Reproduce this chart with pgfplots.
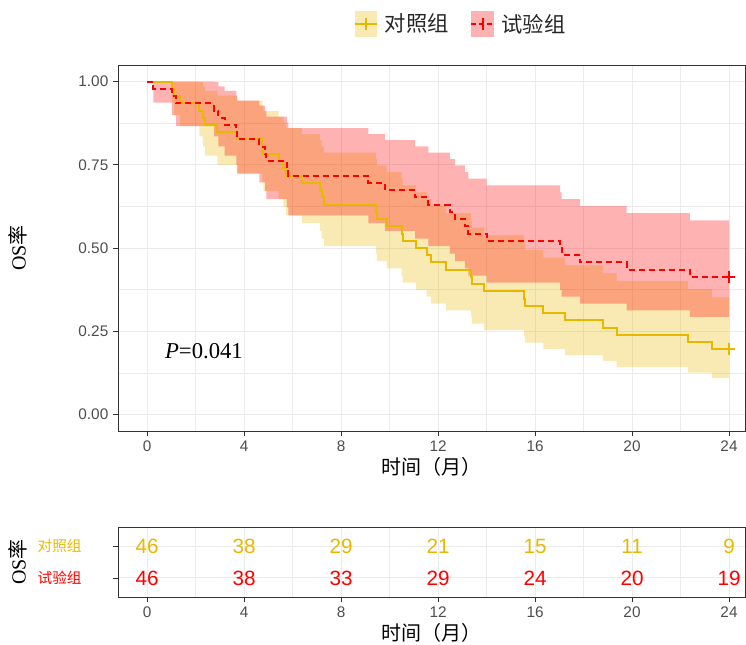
\documentclass[border=0pt]{standalone}
\usepackage{fontspec}
\setmainfont{Liberation Sans}
\newfontfamily\cjk{Noto Sans CJK SC}
\newfontfamily\serif{Liberation Serif}
\usepackage{pgfplots}
\pgfplotsset{compat=1.18}
\usepackage{pgfplotstable}
\usepgfplotslibrary{fillbetween}

\definecolor{goldc}{HTML}{E7B800}
\definecolor{redc}{HTML}{FF0000}
\definecolor{tickc}{HTML}{4D4D4D}
\definecolor{framec}{HTML}{333333}
\definecolor{gridc}{HTML}{EBEBEB}

% control group: time, survival, lower, upper
\pgfplotstableread{
t s lo hi
0 1 1 1
1.02 0.97826 0.93702 1
1.10 0.95652 0.89936 1
1.35 0.93478 0.86608 1
2.16 0.91304 0.83514 0.99821
2.30 0.89130 0.80575 0.98595
2.39 0.86957 0.77749 0.97255
2.90 0.84783 0.75013 0.95825
3.70 0.82609 0.72350 0.94322
4.75 0.80435 0.69751 0.92756
4.80 0.78261 0.67204 0.91136
5.42 0.76087 0.64707 0.89468
5.62 0.73913 0.62253 0.87757
5.73 0.71739 0.59839 0.86006
6.38 0.69565 0.57462 0.84218
7.13 0.67391 0.55119 0.82396
7.20 0.65217 0.52809 0.80541
7.30 0.63043 0.50530 0.78656
9.44 0.60870 0.48281 0.76742
9.48 0.58696 0.46060 0.74798
9.88 0.56522 0.43867 0.72827
10.50 0.54348 0.41702 0.70829
10.54 0.52174 0.39563 0.68804
11.09 0.50000 0.37451 0.66754
11.53 0.47826 0.35365 0.64677
11.70 0.45652 0.33305 0.62575
12.33 0.43478 0.31273 0.60446
13.35 0.41304 0.29268 0.58292
13.40 0.39130 0.27289 0.56111
13.90 0.36957 0.25338 0.53904
15.55 0.34783 0.23416 0.51668
15.59 0.32609 0.21524 0.49404
16.34 0.30435 0.19662 0.47110
17.24 0.28261 0.17833 0.44787
18.80 0.26087 0.16039 0.42431
19.37 0.23913 0.14281 0.40042
22.30 0.21739 0.12563 0.37616
23.29 0.19565 0.10889 0.35153
24.00 0.19565 0.10889 0.35153
}\ctrl

% experimental group
\pgfplotstableread{
t s lo hi
0 1 1 1
0.26 0.97826 0.93702 1
1.02 0.95652 0.89936 1
1.20 0.93478 0.86608 1
2.76 0.91304 0.83514 0.99821
2.94 0.89130 0.80575 0.98595
3.20 0.86957 0.77749 0.97255
3.68 0.84783 0.75013 0.95825
3.72 0.82609 0.72350 0.94322
4.63 0.80435 0.69751 0.92756
4.87 0.78261 0.67204 0.91136
4.92 0.76087 0.64707 0.89468
5.76 0.73913 0.62253 0.87757
5.83 0.71739 0.59839 0.86006
9.13 0.69565 0.57462 0.84218
9.81 0.67391 0.55119 0.82396
11.05 0.65217 0.52809 0.80541
11.60 0.63043 0.50530 0.78656
12.49 0.60870 0.48281 0.76742
12.70 0.58696 0.46060 0.74798
13.11 0.56522 0.43867 0.72827
13.25 0.54348 0.41702 0.70829
14.00 0.52174 0.39563 0.68804
17.03 0.50000 0.37451 0.66754
17.10 0.47826 0.35365 0.64677
17.86 0.45652 0.33305 0.62575
19.78 0.43478 0.31273 0.60446
22.39 0.41304 0.29268 0.58292
24.00 0.41304 0.29268 0.58292
}\expt

\pgfplotstableread{
t row n
0 2 46
4 2 38
8 2 29
12 2 21
16 2 15
20 2 11
24 2 9
}\riskg
\pgfplotstableread{
t row n
0 1 46
4 1 38
8 1 33
12 1 29
16 1 24
20 1 20
24 1 19
}\riskr

\pgfplotsset{
  kmbase/.style={
    scale only axis, width=470.25pt,
    xmin=-1.2, xmax=24.66,
    xtick={0,4,...,24}, minor xtick={2,6,...,22},
    grid=both,
    major grid style={gridc, line width=0.7pt},
    minor grid style={gridc, line width=0.35pt},
    axis line style={framec, line width=0.6pt},
    tick style={framec, line width=0.6pt},
    major tick length=3.75pt, minor tick length=0pt,
    tick align=outside, xtick pos=left, ytick pos=left,
    tick label style={text=tickc, font=\fontsize{11.5}{13}\selectfont},
    /pgf/number format/assume math mode=true,
    label style={font=\cjk\fontsize{15}{17}\selectfont, text=black},
    xlabel style={at={(axis description cs:0.5,0)}, anchor=center, yshift=-27pt},
    ylabel style={at={(axis description cs:0,0.5)}, anchor=center, yshift=75pt},
  }
}

\begin{document}
\begin{tikzpicture}

\begin{axis}[kmbase,
  at={(88.5pt,-323.25pt)}, anchor=south west, height=274.5pt,
  ymin=-0.05, ymax=1.05,
  ytick={0,0.25,0.5,0.75,1}, yticklabels={0.00,0.25,0.50,0.75,1.00},
  minor ytick={0.125,0.375,0.625,0.875},
  xlabel={时间（月）},
  ylabel={{\serif OS}率},
  legend columns=2,
  legend style={at={(axis description cs:0.547,1.112)}, anchor=center,
    draw=none, fill=none, font=\cjk\fontsize{16}{18}\selectfont, text=black!85,
    /tikz/every odd column/.append style={column sep=3pt},
    /tikz/every even column/.append style={column sep=14pt}},
]
\addplot[name path=gu, const plot, draw=none, forget plot] table[x=t, y=hi] {\ctrl};
\addplot[name path=gl, const plot, draw=none, forget plot] table[x=t, y=lo] {\ctrl};
\addplot[fill=goldc, fill opacity=0.3, draw=none, forget plot] fill between[of=gu and gl];
\addplot[name path=ru, const plot, draw=none, forget plot] table[x=t, y=hi] {\expt};
\addplot[name path=rl, const plot, draw=none, forget plot] table[x=t, y=lo] {\expt};
\addplot[fill=redc, fill opacity=0.3, draw=none, forget plot] fill between[of=ru and rl];

\addplot[const plot, goldc, line width=1.5pt, mark=none,
  legend image code/.code={
    \path[fill=goldc, fill opacity=0.3, draw=none] (0pt,-9.5pt) rectangle (17pt,9.5pt);
    \draw[goldc, line width=1.5pt, solid] (0pt,0pt) -- (17pt,0pt);
    \draw[goldc, line width=1.5pt, solid] (8.5pt,-4.5pt) -- (8.5pt,4.5pt);}
  ] table[x=t, y=s] {\ctrl};
\addlegendentry{对照组}
\addplot[const plot, redc, line width=1.5pt, mark=none, dash pattern=on 4.5pt off 3pt,
  legend image code/.code={
    \path[fill=redc, fill opacity=0.3, draw=none] (0pt,-9.5pt) rectangle (17pt,9.5pt);
    \draw[redc, line width=1.5pt, dash pattern=on 3.5pt off 2.5pt] (0pt,0pt) -- (17pt,0pt);
    \draw[redc, line width=1.5pt, solid] (8.5pt,-4.5pt) -- (8.5pt,4.5pt);}
  ] table[x=t, y=s] {\expt};
\addlegendentry{试验组}

\addplot[only marks, mark=+, mark size=4.5pt, goldc, line width=1.5pt, forget plot] coordinates {(24,0.19565)};
\addplot[only marks, mark=+, mark size=4.5pt, redc, line width=1.5pt, forget plot] coordinates {(24,0.41304)};

\node[anchor=west, font=\serif\fontsize{17}{19}\selectfont, text=black] at (axis cs:0.55,0.19) {\textit{P}=0.041};
\end{axis}

\begin{axis}[kmbase,
  at={(88.5pt,-447.75pt)}, anchor=south west, height=52.5pt,
  ymin=0.4, ymax=2.6,
  ytick={1,2},
  yticklabels={{\color{redc}试验组},{\color{goldc}对照组}},
  yticklabel style={font=\cjk\fontsize{11}{12}\selectfont, xshift=-20pt},
  xlabel={时间（月）},
  ylabel={{\serif OS}率},
]
\addplot[draw=none, mark=none, nodes near coords, point meta=explicit symbolic,
  nodes near coords style={anchor=center, text=goldc, font=\fontsize{15.5}{17}\selectfont}]
  table[x=t, y=row, meta=n] {\riskg};
\addplot[draw=none, mark=none, nodes near coords, point meta=explicit symbolic,
  nodes near coords style={anchor=center, text=redc, font=\fontsize{15.5}{17}\selectfont}]
  table[x=t, y=row, meta=n] {\riskr};
\end{axis}

\pgfresetboundingbox
\path (0pt,0pt) rectangle (559.5pt,-483.75pt);
\end{tikzpicture}
\end{document}
